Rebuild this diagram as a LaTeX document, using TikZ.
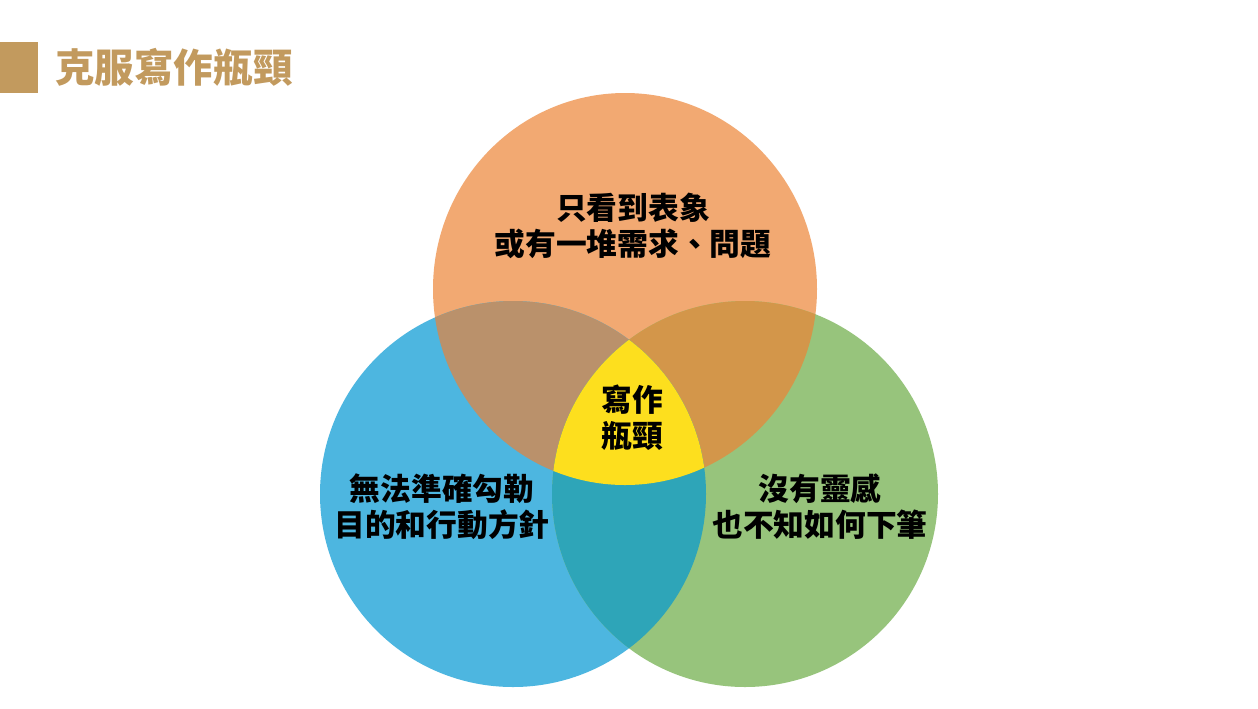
\documentclass[tikz,border=0pt]{standalone}
\usepackage{fontspec}
\newfontfamily\cjk{Noto Sans CJK TC}
\usetikzlibrary{positioning}
\definecolor{topc}{HTML}{F2A972}
\definecolor{leftc}{HTML}{4DB6E0}
\definecolor{rightc}{HTML}{97C47C}
\definecolor{tlc}{HTML}{BA916B}
\definecolor{trc}{HTML}{D3964A}
\definecolor{lrc}{HTML}{2EA5B8}
\definecolor{midc}{HTML}{FDDF1E}
\definecolor{titlec}{HTML}{C29A5E}
\begin{document}
\begin{tikzpicture}[x=0.02cm, y=-0.02cm,
    lbl/.style   = {font=\cjk\bfseries\fontsize{17.5}{20.5}\selectfont, align=center,
                    text=black, inner sep=0pt},
    ttl/.style   = {font=\cjk\bfseries\fontsize{22.5}{26}\selectfont, text=titlec,
                    anchor=west, inner sep=0pt}]
    \useasboundingbox (0,0) rectangle (1258,708);
    \fill[white] (0,0) rectangle (1258,708);
    % title bar
    \fill[titlec] (0,42) rectangle (38,93);
    \node[ttl] (title) at (55,67) {克服寫作瓶頸};
    % circle centres
    \coordinate (ctop)   at (625,289);
    \coordinate (cleft)  at (513,494);
    \coordinate (cright) at (745,494);
    \def\rad{193}
    \def\topshape{(ctop) ellipse[x radius=192, y radius=196]}
    % the three circles
    \fill[topc]   \topshape;
    \fill[leftc]  (cleft)  circle[radius=\rad];
    \fill[rightc] (cright) circle[radius=\rad];
    % pairwise overlaps
    \begin{scope}
      \clip \topshape;
      \fill[tlc] (cleft) circle[radius=\rad];
    \end{scope}
    \begin{scope}
      \clip \topshape;
      \fill[trc] (cright) circle[radius=\rad];
    \end{scope}
    \begin{scope}
      \clip (cleft) circle[radius=\rad];
      \fill[lrc] (cright) circle[radius=\rad];
    \end{scope}
    % centre
    \begin{scope}
      \clip \topshape;
      \clip (cleft) circle[radius=\rad];
      \fill[midc] (cright) circle[radius=\rad];
    \end{scope}
    % labels
    \node[lbl] (surface) at (633,226) {只看到表象\\或有一堆需求、問題};
    \node[lbl] (aim)     at (442,507) {無法準確勾勒\\目的和行動方針};
    \node[lbl] (idea)    at (820,507) {沒有靈感\\也不知如何下筆};
    \node[lbl] (block)   at (632,418) {寫作\\瓶頸};
\end{tikzpicture}
\end{document}
